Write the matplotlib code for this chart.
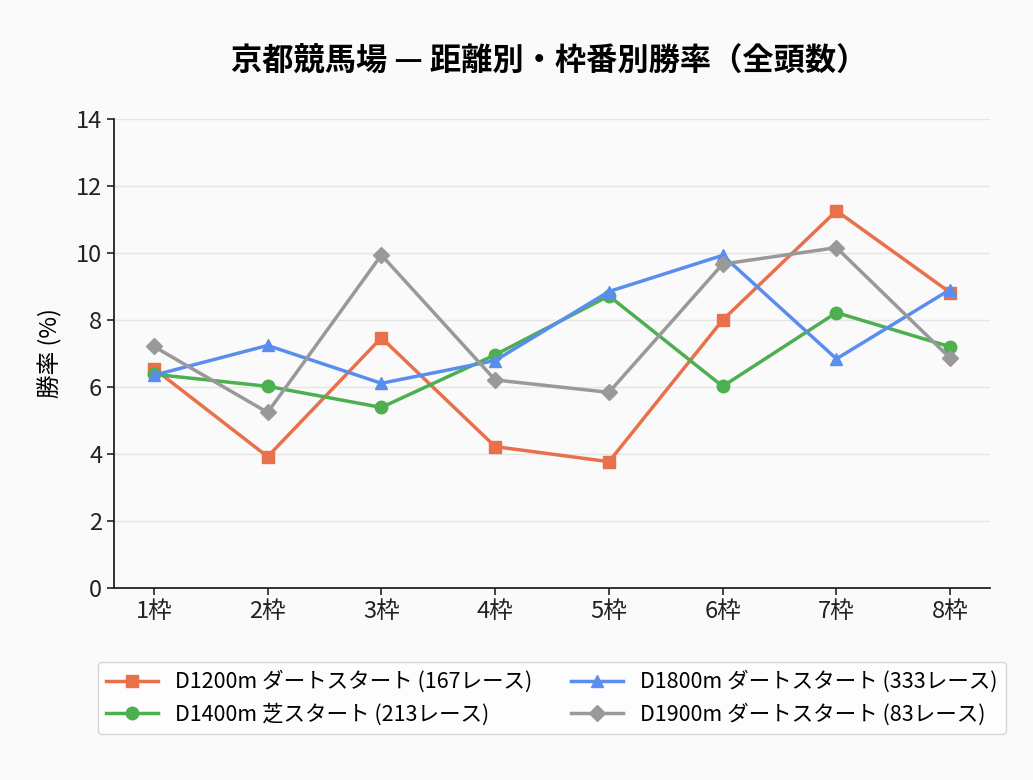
import matplotlib
matplotlib.use("Agg")
import matplotlib.pyplot as plt

plt.rcParams['font.family'] = ['Noto Sans CJK JP', 'DejaVu Sans']

# 枠番
waku = ["1枠", "2枠", "3枠", "4枠", "5枠", "6枠", "7枠", "8枠"]

# 勝率 (%)
d1200 = [6.55, 3.92, 7.47, 4.22, 3.77, 8.00, 11.26, 8.82]
d1400 = [6.38, 6.02, 5.39, 6.96, 8.72, 6.02, 8.22, 7.20]
d1800 = [6.35, 7.24, 6.11, 6.79, 8.85, 9.93, 6.84, 8.91]
d1900 = [7.21, 5.24, 9.94, 6.21, 5.84, 9.67, 10.16, 6.86]

labels = ["D1200m ダートスタート (167レース)",
          "D1400m 芝スタート (213レース)",
          "D1800m ダートスタート (333レース)",
          "D1900m ダートスタート (83レース)"]
colors = ["#E8704A", "#4CAF50", "#5B8DEF", "#999999"]
markers = ["s", "o", "^", "D"]

bg = "#fafafa"
fig = plt.figure(figsize=(10.33, 7.8), dpi=100, facecolor=bg)
ax = fig.add_axes([0.1104, 0.2462, 0.848, 0.6012], facecolor=bg)

x = list(range(len(waku)))
for data, lab, c, m in zip([d1200, d1400, d1800, d1900], labels, colors, markers):
    ms = 9 if m != "D" else 8.5
    ax.plot(x, data, color=c, marker=m, markersize=ms, linewidth=2.5, label=lab)

ax.set_xlim(-0.35, 7.35)
ax.set_ylim(0, 14)
ax.set_yticks(range(0, 15, 2))
ax.set_xticks(x)
ax.set_xticklabels(waku)
ax.tick_params(axis='both', labelsize=17, length=5, width=1.2, colors="#222222")
ax.grid(axis='y', color="#e5e5e5", linewidth=1)
ax.set_axisbelow(True)
for s in ["top", "right"]:
    ax.spines[s].set_visible(False)
for s in ["left", "bottom"]:
    ax.spines[s].set_linewidth(1.3)
    ax.spines[s].set_color("#222222")

ax.set_ylabel("勝率 (%)", fontsize=17, labelpad=10)
fig.text(0.532, 0.921, "京都競馬場 — 距離別・枠番別勝率（全頭数）",
         ha='center', va='center', fontsize=22.5, fontweight='bold')

leg = ax.legend(loc='upper center', bbox_to_anchor=(0.5, -0.135), ncol=2,
                fontsize=15.5, frameon=True, facecolor="white", edgecolor="#cccccc",
                columnspacing=1.8, handlelength=2.4, labelspacing=0.45)

fig.savefig("out.png", dpi=100, facecolor=bg)
